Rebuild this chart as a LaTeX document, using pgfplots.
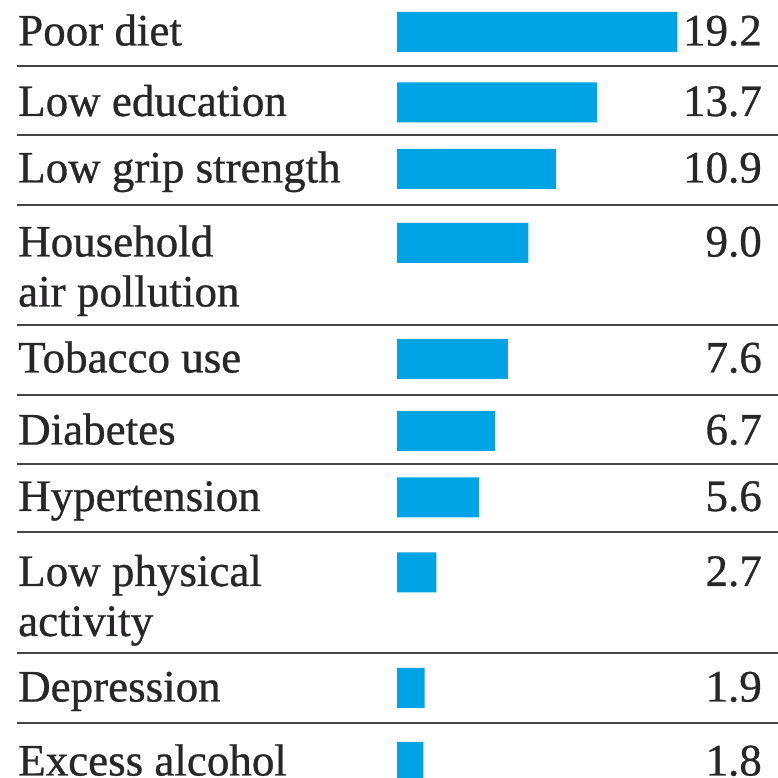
\documentclass[border=0pt]{standalone}
\usepackage{pgfplots}
\pgfplotsset{compat=1.18}
\usepackage{pgfplotstable}
\usepackage{fontspec}
\setmainfont{Liberation Serif}[UprightFeatures={FakeBold=0.7}]
\definecolor{barblue}{RGB}{0,163,228}
\definecolor{txt}{RGB}{40,38,40}
\definecolor{rule}{RGB}{70,70,70}
\pgfplotstableread{
y val
-32 19.2
-102.5 13.7
-169 10.9
-243 9.0
-359 7.6
-431 6.7
-497.5 5.6
-572.5 2.7
-688 1.9
-762 1.8
}\datatable
\begin{document}
\begin{tikzpicture}
\clip (0,0) rectangle (778pt,778pt);
\begin{axis}[
  scale only axis, width=778pt, height=778pt,
  xmin=-27.192, xmax=26.096, ymin=-778, ymax=0,
  axis line style={draw=none}, tick style={draw=none},
  xtick=\empty,
  ytick={-32,-102.5,-169,-243,-359,-431,-497.5,-572.5,-688,-762},
  yticklabels={Poor diet, Low education, Low grip strength,
    {\begin{tabular}[t]{@{}l@{}}Household\\air pollution\end{tabular}},
    Tobacco use, Diabetes, Hypertension,
    {\begin{tabular}[t]{@{}l@{}}Low physical\\activity\end{tabular}},
    Depression, Excess alcohol},
  yticklabel style={anchor=base west, inner sep=0pt, xshift=18pt, yshift=-13.5pt,
    font=\fontsize{45}{50}\selectfont, text=txt},
  clip=false,
]
\foreach \yy in {-66,-135,-205,-325,-395,-464,-532,-653,-723} {
  \edef\tmp{\noexpand\draw[rule, line width=1.8pt] (axis cs:-26.03,\yy) -- (axis cs:26.096,\yy);}
  \tmp
}
\addplot[xbar, bar width=40pt, fill=barblue, draw=none] table[x=val, y=y] {\datatable};
\addplot[draw=none, mark=none, nodes near coords={\pgfplotspointmeta},
  point meta=explicit symbolic,
  nodes near coords style={anchor=base east, inner sep=0pt, yshift=-13.5pt,
    font=\fontsize{45}{50}\selectfont, text=txt}]
  table[x expr=25.0, y=y, meta=val] {\datatable};
\end{axis}
\end{tikzpicture}
\end{document}
